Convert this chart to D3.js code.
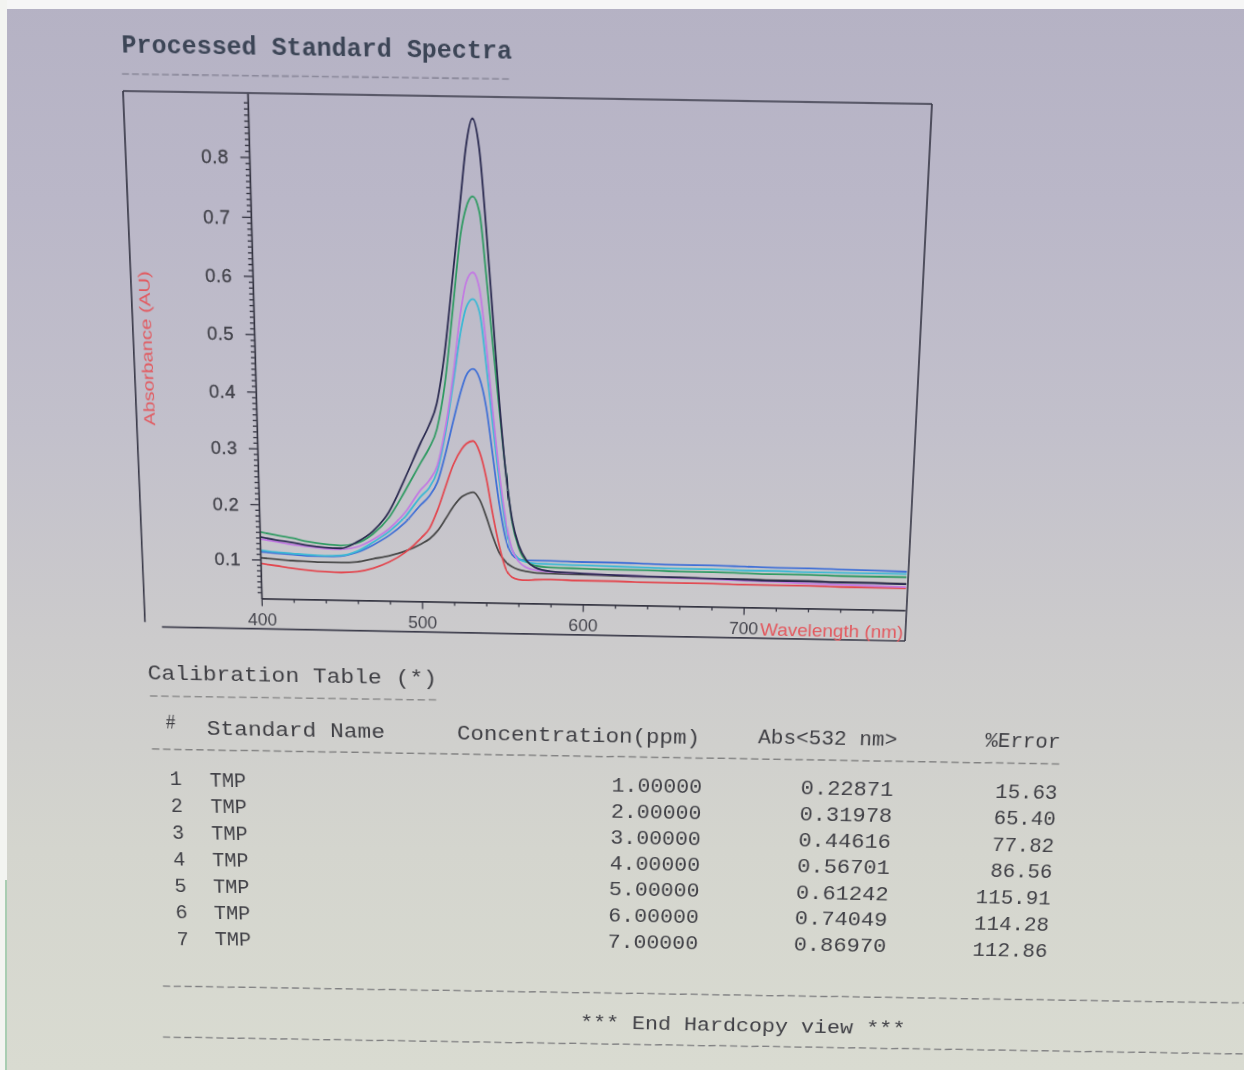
<!DOCTYPE html>
<html><head><meta charset="utf-8">
<script src="https://cdn.jsdelivr.net/npm/d3@7"></script>
<style>
html,body{margin:0;padding:0;width:1244px;height:1070px;overflow:hidden;}
body{position:relative;background:linear-gradient(180deg,#b5b2c4 0px,#bab7c8 200px,#c2c0cb 430px,#cccbcc 640px,#d4d5ce 850px,#d9dbd1 1070px);}
#bgT{position:absolute;left:0;top:0;width:1244px;height:9px;background:#f6f6f6;}
#bgL{position:absolute;left:0;top:0;width:7px;height:1070px;background:#f3f4f1;}
#bgG{position:absolute;left:5px;top:880px;width:2px;height:190px;background:#a9cdb2;}
#chart{position:absolute;left:0;top:0;transform-origin:0 0;overflow:visible;}
</style></head><body>
<div id="bgT"></div><div id="bgL"></div><div id="bgG"></div>
<svg id="chart" width="1500" height="1300"></svg>
<script>
// ---------------- data ----------------
const wavelengths = [400,410,420,430,440,450,460,470,480,490,500,505,510,515,520,525,528,532,536,540,544,548,552,556,560,565,570,580,600,620,640,660,680,700,720,740,760,780,800];
const spectrum1 = [0.103,0.101,0.099,0.098,0.097,0.097,0.099,0.105,0.111,0.120,0.134,0.143,0.158,0.180,0.203,0.220,0.225,0.2287,0.215,0.185,0.150,0.120,0.104,0.095,0.090,0.087,0.085,0.084,0.083,0.082,0.081,0.081,0.080,0.080,0.079,0.079,0.078,0.078,0.077];
const spectrum2 = [0.093,0.089,0.085,0.082,0.080,0.079,0.081,0.088,0.100,0.118,0.145,0.162,0.195,0.237,0.278,0.305,0.315,0.3198,0.300,0.255,0.190,0.133,0.092,0.076,0.072,0.071,0.072,0.073,0.072,0.072,0.071,0.071,0.071,0.070,0.070,0.070,0.069,0.069,0.069];
const spectrum3 = [0.114,0.112,0.110,0.108,0.108,0.109,0.116,0.130,0.148,0.172,0.205,0.220,0.245,0.295,0.355,0.410,0.435,0.4462,0.430,0.380,0.295,0.208,0.146,0.117,0.109,0.107,0.107,0.107,0.106,0.106,0.105,0.104,0.104,0.103,0.102,0.102,0.101,0.100,0.099];
const spectrum4 = [0.117,0.114,0.112,0.110,0.109,0.110,0.118,0.135,0.155,0.182,0.220,0.235,0.265,0.330,0.420,0.515,0.552,0.5670,0.545,0.455,0.350,0.250,0.167,0.126,0.110,0.104,0.102,0.101,0.100,0.099,0.098,0.097,0.097,0.096,0.096,0.095,0.095,0.095,0.095];
const spectrum5 = [0.137,0.133,0.128,0.125,0.122,0.121,0.126,0.140,0.160,0.190,0.232,0.248,0.275,0.340,0.435,0.550,0.595,0.6124,0.585,0.490,0.375,0.265,0.180,0.127,0.105,0.094,0.090,0.087,0.085,0.083,0.082,0.080,0.079,0.077,0.076,0.074,0.073,0.072,0.071];
const spectrum6 = [0.150,0.145,0.140,0.134,0.130,0.128,0.133,0.150,0.180,0.228,0.280,0.305,0.340,0.420,0.550,0.680,0.720,0.7405,0.715,0.610,0.490,0.375,0.265,0.175,0.130,0.105,0.098,0.095,0.094,0.093,0.093,0.092,0.092,0.091,0.090,0.090,0.089,0.089,0.089];
const spectrum7 = [0.141,0.136,0.132,0.127,0.124,0.123,0.135,0.155,0.190,0.250,0.315,0.345,0.385,0.475,0.605,0.740,0.820,0.8697,0.820,0.690,0.540,0.390,0.265,0.180,0.135,0.107,0.095,0.088,0.085,0.083,0.082,0.081,0.080,0.079,0.078,0.078,0.077,0.077,0.076];
const standardNames = ["TMP","TMP","TMP","TMP","TMP","TMP","TMP"];
const concentrations = [1,2,3,4,5,6,7];
const absAt532 = [0.22871,0.31978,0.44616,0.56701,0.61242,0.74049,0.86970];
const pctError = [15.63,65.40,77.82,86.56,115.91,114.28,112.86];
const xTickValues = [400,500,600,700];
const yTickValues = [0.1,0.2,0.3,0.4,0.5,0.6,0.7,0.8];

const seriesValues = [spectrum1,spectrum2,spectrum3,spectrum4,spectrum5,spectrum6,spectrum7];
const seriesColors = ["#474747","#e2474f","#3f6fd6","#3cb8d4","#c27ae2","#2f9a62","#2a2a50"];

// ------------- perspective (photo of a screen) -------------
function solveH(src, dst){
  const A=[],B=[];
  for(let i=0;i<4;i++){const [x,y]=src[i],[u,v]=dst[i];
    A.push([x,y,1,0,0,0,-u*x,-u*y]);B.push(u);
    A.push([0,0,0,x,y,1,-v*x,-v*y]);B.push(v);}
  const n=8;
  for(let c=0;c<n;c++){let p=c;for(let r=c+1;r<n;r++) if(Math.abs(A[r][c])>Math.abs(A[p][c])) p=r;
    [A[c],A[p]]=[A[p],A[c]];[B[c],B[p]]=[B[p],B[c]];
    for(let r=0;r<n;r++){if(r===c)continue;const f=A[r][c]/A[c][c];for(let k=c;k<n;k++)A[r][k]-=f*A[c][k];B[r]-=f*B[c];}}
  return A.map((row,i)=>B[i]/row[i]);
}
function applyH(h,x,y){const w=h[6]*x+h[7]*y+1;return [(h[0]*x+h[1]*y+h[2])/w,(h[3]*x+h[4]*y+h[5])/w];}
const FLAT=[[123,91],[932,91],[932,627],[123,627]];
const PHOTO=[[123,91],[932,104],[905,641],[145.5,627]];
const H=solveH(FLAT,PHOTO), Hi=solveH(PHOTO,FLAT);
const toFlat=(u,v)=>applyH(Hi,u,v);
const svgNode=document.getElementById('chart');
svgNode.style.transform=`matrix3d(${H[0]},${H[3]},0,${H[6]},${H[1]},${H[4]},0,${H[7]},0,0,1,0,${H[2]},${H[5]},0,1)`;
const svg=d3.select(svgNode);
const SLOPE=0.014;
function hScale(u,v){const a=toFlat(u,v),b=toFlat(u+20,v+20*SLOPE);return Math.hypot(b[0]-a[0],b[1]-a[1])/Math.hypot(20,20*SLOPE);}

// ------------- frame -------------
const frameColor="#3b3b4a";
function pline(p,q,opts){const a=toFlat(p[0],p[1]),b=toFlat(q[0],q[1]);
  const l=svg.append('line').attr('x1',a[0]).attr('y1',a[1]).attr('x2',b[0]).attr('y2',b[1])
    .attr('stroke',opts.stroke||frameColor).attr('stroke-width',opts.width||1.7);
  if(opts.dash) l.attr('stroke-dasharray',opts.dash);
  return l;}
pline([123,91],[145,622],{});
pline([123,91],[932,104],{});
pline([932,104],[905,641],{});
pline([162,627],[905,641],{});

// ------------- scales -------------
const O=toFlat(262,598.5), E=toFlat(905,608), T=toFlat(247,94);
const axisY=O[1];
const yAxisX=(O[0]+T[0])/2;
const x=d3.scaleLinear().domain([400,800]).range([yAxisX,E[0]]);
const P1=toFlat(261,559.5), P8=toFlat(249,157);
const y0=d3.scaleLinear().domain([0.1,0.8]).range([P1[1],P8[1]]);
const y=d3.scaleLinear().domain([y0.invert(axisY),y0.invert(91)]).range([axisY,91]);

// ------------- curves -------------
const line=d3.line().x(d=>x(d.w)).y(d=>y(d.v)).curve(d3.curveMonotoneX);
const gCurves=svg.append('g');
seriesValues.forEach((vals,i)=>{
  const pts=wavelengths.map((w,j)=>({w:w,v:vals[j]}));
  gCurves.append('path').attr('d',line(pts)).attr('fill','none')
    .attr('stroke',seriesColors[i]).attr('stroke-width',1.8).attr('stroke-linejoin','round');
});

// ------------- axes -------------
const axisColor="#333340";
const sB=hScale(500,600);
const gx=svg.append('g').attr('transform',`translate(0,${axisY})`);
gx.call(d3.axisBottom(x).tickValues(d3.range(420,800,20).filter(v=>v%100!==0)).tickSize(4).tickSizeOuter(0).tickFormat(''));
gx.call(g=>g.select('.domain').remove());
const gx2=svg.append('g').attr('transform',`translate(0,${axisY})`);
gx2.call(d3.axisBottom(x).tickValues(xTickValues).tickSize(8).tickPadding(7).tickSizeOuter(0).tickFormat(d3.format('d')));
[gx,gx2].forEach(g=>{g.selectAll('line').attr('stroke',axisColor).attr('stroke-width',1.3);});
gx2.select('.domain').attr('stroke',axisColor).attr('stroke-width',1.7);
gx2.selectAll('text').attr('fill','#46464e').attr('font-family','Liberation Sans, Arial, sans-serif').attr('font-size',17.5*sB);

const gy=svg.append('g').attr('transform',`translate(${yAxisX},0)`);
const minorY=d3.range(4,91).map(v=>v/100).filter(v=>Math.round(v*100)%10!==0);
gy.call(d3.axisLeft(y).tickValues(minorY).tickSize(4).tickSizeOuter(0).tickFormat(''));
gy.select('.domain').remove();
const gy2=svg.append('g').attr('transform',`translate(${yAxisX},0)`);
gy2.call(d3.axisLeft(y).tickValues(yTickValues).tickSize(9).tickPadding(12).tickSizeOuter(0).tickFormat(d3.format('.1f')));
[gy,gy2].forEach(g=>{g.selectAll('line').attr('stroke',axisColor).attr('stroke-width',1.3);});
gy2.select('.domain').attr('stroke',axisColor).attr('stroke-width',1.7);
gy2.selectAll('text').attr('fill','#44444c').attr('font-family','Liberation Sans, Arial, sans-serif').attr('font-size',19).attr('letter-spacing',0.4).attr('stroke','#44444c').attr('stroke-width',0.35);

// ------------- texts -------------
function ptext(str,x0,x1,cy,fs,opts){
  opts=opts||{};
  const base=cy+0.36*fs;
  const a=toFlat(x0,base), b=toFlat(x1,base+SLOPE*(x1-x0));
  const w=b[0]-a[0], s=w/(x1-x0);
  const t=svg.append('text').attr('x',a[0]).attr('y',a[1]).attr('font-size',fs*s)
    .attr('font-family',opts.family||'Liberation Mono, DejaVu Sans Mono, monospace')
    .attr('fill',opts.fill||'#3f3f44').attr('textLength',w).attr('lengthAdjust','spacingAndGlyphs').text(str);
  if(opts.weight) t.attr('font-weight',opts.weight);
  return t;
}
ptext('Processed Standard Spectra',122,512,44,24,{weight:'bold',fill:'#3c4556'});
pline([122,74],[510,79],{stroke:'#8c8a9c',width:1.6,dash:'7,3'});

// y axis title
(function(){const c=toFlat(147,349);const s=hScale(147,349);
  svg.append('text').attr('transform',`translate(${c[0]},${c[1]}) rotate(-90)`)
   .attr('text-anchor','middle').attr('dominant-baseline','central')
   .attr('font-family','Liberation Sans, Arial, sans-serif').attr('font-size',15.5*s)
   .attr('fill','#e2585e').attr('textLength',154).attr('lengthAdjust','spacingAndGlyphs')
   .text('Absorbance (AU)');})();
ptext('Wavelength (nm)',760,903,629,17,{family:'Liberation Sans, Arial, sans-serif',fill:'#e2585e'});

// table
ptext('Calibration Table (*)',148,437,672,21);
pline([150,696],[438,700],{stroke:'#8a8a8a',width:1.5,dash:'8,4'});
ptext('#',166,176,721,20);
ptext('Standard Name',207,385,727,21);
ptext('Concentration(ppm)',457,700,732,21);
ptext('Abs<532 nm>',758,897,736,20);
ptext('%Error',985,1060,739,20);
pline([152,749],[1060,764],{stroke:'#808080',width:1.5,dash:'8,4'});

const rowT=d3.scaleLinear().domain([1,7]).range([0,1]);
const cols=[
  {a1:[170,778],a7:[177,938],anchor:'start',cw:0,fmt:i=>String(i+1)},
  {a1:[210,779],a7:[215,938],anchor:'start',cw:12.7,fmt:i=>standardNames[i]},
  {a1:[702,786],a7:[698,942],anchor:'end',cw:13.2,fmt:i=>concentrations[i].toFixed(5)},
  {a1:[893,789],a7:[886,945],anchor:'end',cw:13.5,fmt:i=>absAt532[i].toFixed(5)},
  {a1:[1057,792],a7:[1047,950],anchor:'end',cw:12.8,fmt:i=>pctError[i].toFixed(2)}
];
const fsRow=20;
concentrations.forEach((c,i)=>{
  const t=rowT(i+1);
  cols.forEach(col=>{
    const u=col.a1[0]+(col.a7[0]-col.a1[0])*t;
    const cy=col.a1[1]+(col.a7[1]-col.a1[1])*t;
    const p=toFlat(u,cy+0.36*fsRow);
    const s=hScale(u,cy);
    const str=col.fmt(i);
    const el=svg.append('text').attr('x',p[0]).attr('y',p[1]).attr('text-anchor',col.anchor)
      .attr('font-family','Liberation Mono, DejaVu Sans Mono, monospace').attr('font-size',fsRow*s)
      .attr('fill','#404046').text(str);
    if(col.cw) el.attr('textLength',str.length*col.cw*s-2).attr('lengthAdjust','spacingAndGlyphs');
  });
});

pline([163,986],[1244,1003],{stroke:'#7e7e80',width:1.5,dash:'8,4'});
ptext('*** End Hardcopy view ***',580,905,1021,19,{fill:'#404046'});
pline([163,1037],[1244,1054],{stroke:'#7e7e80',width:1.5,dash:'8,4'});
</script></body></html>
